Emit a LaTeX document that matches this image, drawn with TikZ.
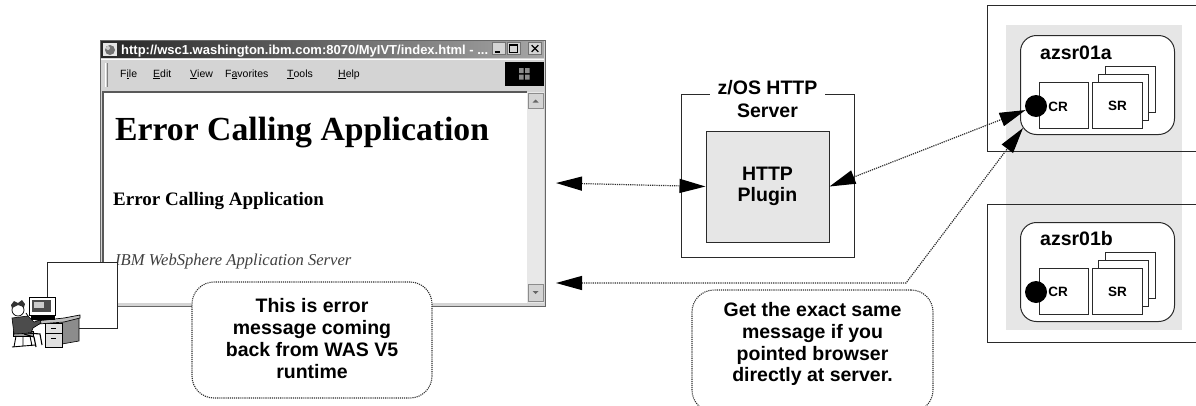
\documentclass[tikz,border=0pt]{standalone}
\usepackage{fontspec}
\setmainfont{Liberation Serif}
\setsansfont{Liberation Sans}
\usetikzlibrary{arrows.meta,calc}
\definecolor{panel}{HTML}{E6E6E6}
\definecolor{chrome}{HTML}{D4D4D4}
\definecolor{wire}{HTML}{2E2E2E}
\definecolor{edge}{HTML}{2A2A2A}
\begin{document}
\begin{tikzpicture}[x=1pt,y=-1pt,
  lbl/.style={font=\sffamily\bfseries\fontsize{19.5}{21.7}\selectfont, align=center, inner sep=0pt},
  small/.style={font=\sffamily\bfseries\fontsize{13.5}{15}\selectfont, inner sep=0pt},
  box/.style={draw=edge, line width=1pt, inner sep=0pt},
  link/.style={draw=wire, densely dotted, line width=1.2pt, {Triangle[length=26pt,width=14pt,color=black]}-{Triangle[length=26pt,width=14pt,color=black]}},
  callout/.style={draw=wire, densely dotted, line width=1.1pt, rounded corners=22pt, fill=white, inner sep=0pt},
  menu/.style={font=\sffamily\fontsize{10.5}{12}\selectfont, anchor=base west, inner sep=0pt},
  winbtn/.style={draw=black!55, fill=chrome, line width=0.6pt, minimum width=13pt, minimum height=12pt, inner sep=0pt},
]
\useasboundingbox (0,0) rectangle (1196,405);

% ---------------- browser window ----------------
\node[draw=black!60, fill=chrome, line width=1pt, minimum width=445pt, minimum height=266pt, inner sep=0pt] (browser) at (322.5,173) {};
% title bar
\shade[left color=black!85, right color=black!35] (101,41) rectangle (544,58);
\fill[black!10] (103,43) rectangle (117,56);
\fill[black!55] (110,50) circle (5);
\fill[black!20] (108,48) circle (2);
\node[anchor=base west, text=white, font=\sffamily\bfseries\fontsize{13}{15}\selectfont, inner sep=0pt] (title) at (121,54) {http://wsc1.washington.ibm.com:8070/MyIVT/index.html - ...};
\node[winbtn] (minbtn) at (498.5,48.5) {};
\draw[line width=1.5pt] ($(minbtn.south west)+(3,-3)$) -- ($(minbtn.south east)+(-5,-3)$);
\node[winbtn] (maxbtn) at (513.5,48.5) {};
\draw[line width=0.8pt] ($(maxbtn.south west)+(3,-2.5)$) rectangle ($(maxbtn.north east)+(-3,2.5)$);
\draw[line width=1.6pt] ($(maxbtn.north west)+(3,3)$) -- ($(maxbtn.north east)+(-3,3)$);
\node[winbtn] (closebtn) at (535,48.5) {};
\draw[line width=1.3pt] ($(closebtn.north west)+(3.5,3)$) -- ($(closebtn.south east)+(-3.5,-3)$);
\draw[line width=1.3pt] ($(closebtn.north east)+(-3.5,3)$) -- ($(closebtn.south west)+(3.5,-3)$);
% menu bar
\fill[chrome] (101,58) rectangle (544,91);
\draw[white, line width=0.8pt] (101,59) -- (544,59);
\draw[white, line width=1pt] (105,63) -- (105,87);
\draw[black!50, line width=1pt] (107,63) -- (107,87);
\node[menu] (mFile) at (120,77) {F\underline{i}le};
\node[menu] (mEdit) at (153,77) {\underline{E}dit};
\node[menu] (mView) at (190,77) {\underline{V}iew};
\node[menu] (mFav) at (225,77) {F\underline{a}vorites};
\node[menu] (mTools) at (287,77) {\underline{T}ools};
\node[menu] (mHelp) at (338,77) {\underline{H}elp};
\fill[black] (505,62) rectangle (544,86);
\fill[black!45] (519,68) rectangle (523.5,73) (525,68) rectangle (529.5,73) (519,74.5) rectangle (523.5,79.5) (525,74.5) rectangle (529.5,79.5);
% page area
\fill[white] (103,92) rectangle (527,303);
\draw[black!65, line width=1.4pt] (103,303) -- (103,92) -- (527,92);
% scroll bar
\fill[black!9] (527,92) rectangle (544,303);
\node[draw=black!45, fill=chrome, line width=0.6pt, minimum width=15pt, minimum height=15pt, inner sep=0pt] (upbtn) at (535.5,101) {};
\fill[black!60] ($(upbtn.center)+(-3,1.5)$) -- ($(upbtn.center)+(3,1.5)$) -- ($(upbtn.center)+(0,-1.5)$) -- cycle;
\node[draw=black!45, fill=chrome, line width=0.6pt, minimum width=15pt, minimum height=17pt, inner sep=0pt] (downbtn) at (535.5,292.5) {};
\fill[black!60] ($(downbtn.center)+(-3,-1.5)$) -- ($(downbtn.center)+(3,-1.5)$) -- ($(downbtn.center)+(0,1.5)$) -- cycle;
% page text
\node[anchor=base west, font=\rmfamily\bfseries\fontsize{33.7}{36}\selectfont, inner sep=0pt] (head) at (115,140) {Error Calling Application};
\node[anchor=base west, font=\rmfamily\bfseries\fontsize{19}{22}\selectfont, inner sep=0pt] (sub) at (113,205) {Error Calling Application};
\node[anchor=base west, font=\rmfamily\itshape\fontsize{16.6}{19}\selectfont, text=black!75, inner sep=0pt] (was) at (115,265) {IBM WebSphere Application Server};

% ---------------- user at the desk ----------------
\node[draw=black!85, fill=white, line width=1pt, minimum width=70pt, minimum height=66pt, inner sep=0pt] (screen) at (82,295) {};
% desk
\fill[black!45, draw=black, line width=0.6pt] (62,319) -- (79,316) -- (79,341) -- (62,344) -- cycle;
\fill[black!12, draw=black, line width=0.6pt] (45,323) rectangle (62,347);
\draw[line width=0.6pt] (45,333) -- (62,333);
\draw[line width=1pt] (51,328) -- (56,328) (51,338) -- (56,338);
\fill[black!25, draw=black, line width=0.7pt] (36,321) -- (64,318) -- (80,315) -- (80,318) -- (64,322) -- (38,324) -- cycle;
% monitor
\fill[white, draw=black, line width=0.9pt] (29,297) rectangle (55,315);
\fill[black!70] (32,300) rectangle (51,312);
\fill[black!20] (34,302) rectangle (44,308);
\fill[black] (31,315) rectangle (55,320);
% chair
\fill[black!40, draw=black, line width=0.6pt] (13,331) rectangle (33,336);
\draw[line width=0.9pt] (16,336) -- (14,347) (30,336) -- (32,346) (23,336) -- (23,346) (12,347) -- (35,345);
% person
\fill[black!70, draw=black, line width=0.6pt] (12,318) -- (28,316) -- (34,322) -- (40,320) -- (41,323) -- (33,328) -- (31,333) -- (14,334) -- cycle;
\fill[white, draw=black, line width=0.7pt] (18,310) circle (6);
\fill[black!80] (11,305) -- (14,301) -- (18,303) -- (22,300) -- (25,304) -- (24,307) -- (18,305) -- (12,308) -- cycle;
\draw[line width=0.8pt] (26,313) -- (28,316);
\draw[line width=1.1pt] (28,333) -- (40,334) -- (42,345) (24,334) -- (34,337) -- (36,347);

% ---------------- notes ----------------
\node[callout, minimum width=240pt, minimum height=116pt] (note1) at (312,340) {};
\node[lbl] (note1txt) at (312,338.5) {This is error\\message coming\\back from WAS V5\\runtime};
\node[callout, minimum width=241pt, minimum height=122pt] (note2) at (812.5,351) {};
\node[lbl] (note2txt) at (812.5,344.4) {Get the exact same\\message if you\\pointed browser\\directly at server.};

% ---------------- z/OS HTTP Server ----------------
\node[box, minimum width=173pt, minimum height=163pt] (zos) at (767.5,175.5) {};
\node[lbl, fill=white, inner xsep=8pt, inner ysep=4pt, anchor=base] (zostitle) at (767.5,94) {z/OS HTTP};
\node[lbl, anchor=base] (zossub) at (767.5,117) {Server};
\node[box, fill=panel, minimum width=123pt, minimum height=111pt, lbl] (plugin) at (767.5,186.5) {HTTP\\Plugin};

% ---------------- application servers ----------------
\fill[panel] (1006,25) rectangle (1182,330);
\node[box, minimum width=260pt, minimum height=146pt, anchor=north west] (sysA) at (987,5) {};
\node[box, minimum width=260pt, minimum height=138pt, anchor=north west] (sysB) at (987,204) {};

\node[box, fill=white, rounded corners=16pt, minimum width=154pt, minimum height=99pt, anchor=north west] (srvA) at (1020,35) {};
\node[lbl, anchor=base west] (srvAlbl) at (1040,59) {azsr01a};
\node[box, fill=white, minimum width=50pt, minimum height=46pt, anchor=north west] (srA3) at (1105,66) {};
\node[box, fill=white, minimum width=50pt, minimum height=46pt, anchor=north west] (srA2) at (1098,74) {};
\node[box, fill=white, minimum width=50pt, minimum height=46pt, anchor=north west] (srA1) at (1092,82) {};
\node[box, fill=white, minimum width=49pt, minimum height=46pt, anchor=north west] (crA) at (1039,82) {};
\node[small] (crAtxt) at (1058,106.5) {CR};
\node[small] (srAtxt) at (srA1.center) {SR};
\node[circle, fill=black, minimum size=22pt, inner sep=0pt] (dotA) at (1036,106) {};

\node[box, fill=white, rounded corners=16pt, minimum width=154pt, minimum height=99pt, anchor=north west] (srvB) at (1020,222) {};
\node[lbl, anchor=base west] (srvBlbl) at (1040,245) {azsr01b};
\node[box, fill=white, minimum width=50pt, minimum height=46pt, anchor=north west] (srB3) at (1105,252) {};
\node[box, fill=white, minimum width=50pt, minimum height=46pt, anchor=north west] (srB2) at (1098,260) {};
\node[box, fill=white, minimum width=50pt, minimum height=46pt, anchor=north west] (srB1) at (1092,268) {};
\node[box, fill=white, minimum width=49pt, minimum height=46pt, anchor=north west] (crB) at (1039,268) {};
\node[small] (crBtxt) at (1058,291.5) {CR};
\node[small] (srBtxt) at (srB1.center) {SR};
\node[circle, fill=black, minimum size=22pt, inner sep=0pt] (dotB) at (1036,292) {};

% ---------------- connectors ----------------
\coordinate (bMid) at (556,183);
\coordinate (bLow) at (556,283);
\coordinate (bend) at (906,283);
\coordinate (srvAin) at (1023,128);
\draw[link] (bMid) -- (plugin.west);
\draw[link] (plugin.east) -- (dotA);
\draw[link] (bLow) -- (bend) -- (srvAin);
\end{tikzpicture}
\end{document}
